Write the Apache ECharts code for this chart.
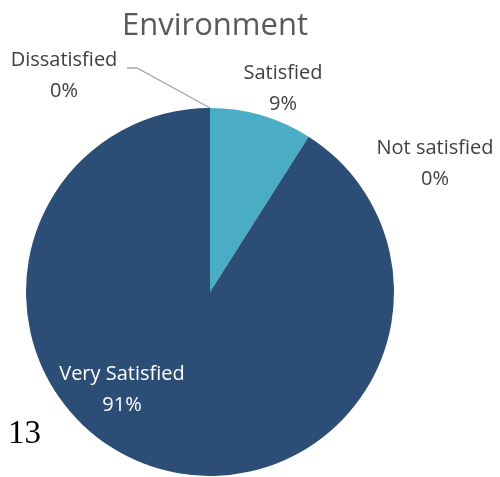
<!DOCTYPE html>
<html><head><meta charset="utf-8">
<script src="https://cdn.jsdelivr.net/npm/echarts@6/dist/echarts.min.js"></script>
<style>html,body{margin:0;padding:0;background:#fff}#c{width:500px;height:477px}</style>
</head><body><div id="c"></div>
<script>
const title = 'Environment';
const categories = ['Satisfied', 'Not satisfied', 'Very Satisfied', 'Dissatisfied'];
const values = [9, 0, 91, 0];
const percentLabels = ['9%', '0%', '91%', '0%'];
const pageNumber = '13';

const colors = ['#4BACC6', '#2C4D75', '#2C4D75', '#2C4D75'];
const labelPos = [
  {x: 283, y: 89, color: '#404040'},
  {x: 435, y: 164, color: '#404040'},
  {x: 122, y: 390, color: '#FFFFFF'},
  {x: 64, y: 76, color: '#404040'}
];

const chart = echarts.init(document.getElementById('c'), null, {renderer: 'canvas'});
chart.setOption({
  animation: false,
  title: {
    text: title, left: 210, top: 6, textAlign: 'center',
    textStyle: {fontFamily: 'Open Sans', fontSize: 31, fontWeight: 'normal', color: '#595959'}
  },
  graphic: [{
    type: 'text', x: 8, y: 434,
    style: {text: pageNumber, font: '33px "Liberation Serif"', fill: '#000', verticalAlign: 'middle', align: 'left'}
  }],
  series: [{
    type: 'pie',
    center: [210, 292],
    radius: 184,
    startAngle: 90,
    clockwise: true,
    minAngle: 0,
    avoidLabelOverlap: false,
    stillShowZeroSum: true,
    itemStyle: {borderWidth: 0},
    data: categories.map((n, i) => ({
      name: n, value: values[i],
      itemStyle: {color: colors[i]},
      label: {color: labelPos[i].color},
      labelLine: {show: i === 3, lineStyle: {color: '#A6A6A6', width: 1.3}, length: 20, length2: 14}
    })),
    label: {
      show: true,
      position: 'outside',
      formatter: p => p.name + '\n' + percentLabels[p.dataIndex],
      fontFamily: 'Open Sans',
      fontSize: 20,
      lineHeight: 31,
      align: 'center'
    },
    labelLayout: p => {
      const lp = labelPos[p.dataIndex];
      const out = {x: lp.x, y: lp.y, align: 'center', verticalAlign: 'middle'};
      if (p.dataIndex === 3 && p.labelLinePoints) {
        const start = p.labelLinePoints[0];
        out.labelLinePoints = [start, [lp.x + 73, lp.y - 8], [lp.x + 63, lp.y - 8]];
      }
      return out;
    }
  }]
});
</script></body></html>
